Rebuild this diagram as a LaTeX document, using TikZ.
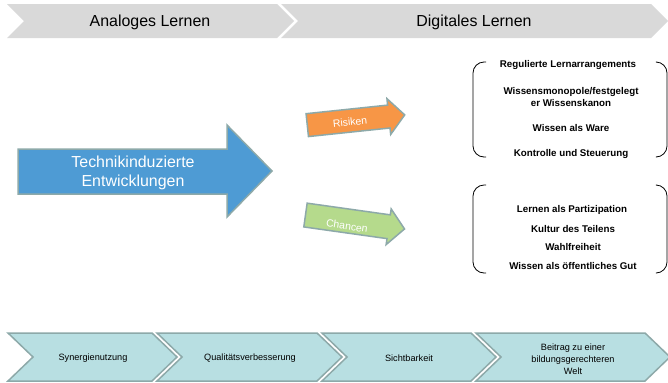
\documentclass[tikz,border=0pt]{standalone}
\usepackage{fontspec}
\setmainfont{Liberation Sans}
\definecolor{topgray}{HTML}{D9D9D9}
\definecolor{bigblue}{HTML}{4E9BD4}
\definecolor{tealgray}{HTML}{8DA9A9}
\definecolor{riskorange}{HTML}{F79646}
\definecolor{chancegreen}{HTML}{B5DA8C}
\definecolor{chevcyan}{HTML}{B8DFE2}
\tikzset{
  topchev/.style={fill=topgray},
  botchev/.style={fill=chevcyan, draw=tealgray, line width=1.5bp},
  bigarrow/.style={fill=bigblue, draw=tealgray, line width=1.5bp},
  smallarrow/.style={draw=tealgray, line width=1.5bp},
  toptext/.style={font=\fontsize{16}{19}\selectfont, text=black},
  bigtext/.style={font=\fontsize{16}{19}\selectfont, text=white, align=center},
  smalltext/.style={font=\fontsize{10.5}{12}\selectfont, text=white},
  itemtext/.style={font=\fontsize{9.8}{12}\selectfont\bfseries, align=center},
  chevtext/.style={font=\fontsize{9.2}{12}\selectfont, align=center},
  bracket/.style={draw=black, line width=0.8bp, rounded corners=11bp}
}
\begin{document}
\begin{tikzpicture}[x=1bp,y=-1bp]
\useasboundingbox (0,0) rectangle (668,382);
\fill[white] (0,0) rectangle (668,382);
% top chevrons
\fill[topchev] (7,4) -- (277,4) -- (294,21) -- (277,38) -- (7,38) -- (24,21) -- cycle;
\fill[topchev] (281,4) -- (651,4) -- (668,21) -- (651,38) -- (281,38) -- (298,21) -- cycle;
\node[toptext] (analog) at (150,22) {Analoges Lernen};
\node[toptext] (digital) at (474,22) {Digitales Lernen};
% big arrow
\draw[bigarrow] (18,149) -- (227,149) -- (227,125) -- (272,171) -- (227,217) -- (227,194) -- (18,194) -- cycle;
\node[bigtext] (tech) at (133,173) {Technikinduzierte\\Entwicklungen};
% Risiken arrow
\begin{scope}[shift={(356,120)}, rotate=6]
\draw[smallarrow, fill=riskorange] (-49,-11.5) -- (33,-11.5) -- (33,-18) -- (49,0) -- (33,18) -- (33,11.5) -- (-49,11.5) -- cycle;
\end{scope}
\node[smalltext, rotate=6] (risiken) at (350,122) {Risiken};
% Chancen arrow
\begin{scope}[shift={(355,222)}, rotate=-8]
\draw[smallarrow, fill=chancegreen] (-50,-12) -- (34,-12) -- (34,-18) -- (50,0) -- (34,18) -- (34,12) -- (-50,12) -- cycle;
\end{scope}
\node[smalltext, rotate=-8] (chancen) at (347,226) {Chancen};
% brackets
\draw[bracket] (486,62) -- (473,62) -- (473,157) -- (486,157);
\draw[bracket] (657,62) -- (667,62) -- (667,157) -- (657,157);
\draw[bracket] (486,185) -- (473,185) -- (473,273) -- (486,273);
\draw[bracket] (657,185) -- (667,185) -- (667,273) -- (657,273);
% risk items
\node[itemtext] (r1) at (568,65) {Regulierte Lernarrangements};
\node[itemtext] (r2) at (571,97) {Wissensmonopole/festgelegt\\er Wissenskanon};
\node[itemtext] (r3) at (571,128) {Wissen als Ware};
\node[itemtext] (r4) at (571,154) {Kontrolle und Steuerung};
% chance items
\node[itemtext] (c1) at (572,210) {Lernen als Partizipation};
\node[itemtext] (c2) at (573,229) {Kultur des Teilens};
\node[itemtext] (c3) at (573,247) {Wahlfreiheit};
\node[itemtext] (c4) at (573,266) {Wissen als öffentliches Gut};
% bottom chevrons
\draw[botchev] (8,333) -- (152,333) -- (177,357) -- (152,381) -- (8,381) -- (33,357) -- cycle;
\draw[botchev] (157,333) -- (317,333) -- (342,357) -- (317,381) -- (157,381) -- (182,357) -- cycle;
\draw[botchev] (322,333) -- (471,333) -- (496,357) -- (471,381) -- (322,381) -- (347,357) -- cycle;
\draw[botchev] (476,333) -- (645,333) -- (670,357) -- (645,381) -- (476,381) -- (501,357) -- cycle;
\node[chevtext] (b1) at (93,358) {Synergienutzung};
\node[chevtext] (b2) at (250,358) {Qualitätsverbesserung};
\node[chevtext] (b3) at (409,358) {Sichtbarkeit};
\node[chevtext] (b4) at (573,359) {Beitrag zu einer\\bildungsgerechteren\\Welt};
\end{tikzpicture}
\end{document}
